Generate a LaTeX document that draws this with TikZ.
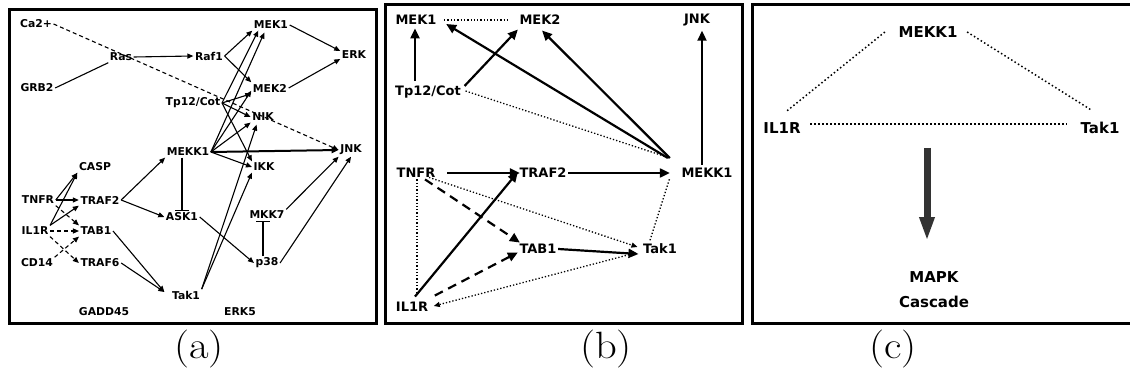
\documentclass[tikz,border=0pt]{standalone}
\usepackage{fontspec}
\newfontfamily\nf{DejaVu Sans}
\usetikzlibrary{arrows.meta,calc}
\begin{document}
\begin{tikzpicture}[x=1pt,y=-1pt,
 na/.style={font=\nf\bfseries\fontsize{10.8}{12}\selectfont, inner sep=1.5pt},
 nb/.style={font=\nf\bfseries\fontsize{13}{15}\selectfont, inner sep=1.5pt},
 nc/.style={font=\nf\bfseries\fontsize{15}{25}\selectfont, inner sep=1.5pt, align=center},
 lab/.style={font=\fontsize{38}{44}\selectfont, inner sep=0pt, xscale=1.12, transform shape},
 frame/.style={line width=3pt},
 ea/.style={line width=1.1pt, -{Triangle[length=6pt,width=5pt]}},
 eah/.style={line width=2pt, -{Triangle[length=7pt,width=6pt]}},
 eda/.style={ea, dash pattern=on 4pt off 3pt},
 pl/.style={line width=1.1pt},
 inh/.style={line width=1.1pt, -{Bar[width=14pt,line width=1.1pt]}},
 eb/.style={line width=2.2pt, -{Triangle[length=10pt,width=9pt]}},
 edb/.style={eb, dash pattern=on 9pt off 6pt},
 dotb/.style={line width=1.3pt, dash pattern=on 1.3pt off 2pt},
 dotba/.style={dotb, -{Triangle[length=6pt,width=5pt]}},
 dotc/.style={line width=1.5pt, dash pattern=on 1.5pt off 2.5pt},
 big/.style={line width=7pt, draw=black!80, -{Triangle[length=24pt,width=14pt,fill=black!80]}},
]
\useasboundingbox (0,0) rectangle (1130,377);
\fill[white] (0,0) rectangle (1130,377);

% frames
\draw[frame] (9,10) rectangle (376,323);
\draw[frame] (385,5) rectangle (742,323);
\draw[frame] (752,5) rectangle (1136,323);

% labels
\node[lab] (la) at (199,349) {(a)};
\node[lab] (lb) at (606,349) {(b)};
\node[lab] (lc) at (893,349) {(c)};

% ---------------- panel (a) ----------------
\node[na] (aCa) at (36,24) {Ca2+};
\node[na] (aGRB2) at (37,88) {GRB2};
\node[na] (aRas) at (121,57) {Ras};
\node[na] (aRaf1) at (209,56) {Raf1};
\node[na] (aMEK1) at (271,25) {MEK1};
\node[na] (aERK) at (354,55) {ERK};
\node[na] (aMEK2) at (270,88) {MEK2};
\node[na] (aTp) at (193,103) {Tp12/Cot};
\node[na] (aNIK) at (263,117) {NIK};
\node[na] (aMEKK1) at (188,152) {MEKK1};
\node[na] (aJNK) at (351,150) {JNK};
\node[na] (aIKK) at (264,167) {IKK};
\node[na] (aMKK7) at (267,215) {MKK7};
\node[na] (aASK1) at (182,217) {ASK1};
\node[na] (ap38) at (267,263) {p38};
\node[na] (aTak1) at (186,295) {Tak1};
\node[na] (aERK5) at (240,312) {ERK5};
\node[na] (aGADD) at (104,312) {GADD45};
\node[na] (aCASP) at (95,167) {CASP};
\node[na] (aTNFR) at (38,200) {TNFR};
\node[na] (aTRAF2) at (100,200) {TRAF2};
\node[na] (aIL1R) at (35,231) {IL1R};
\node[na] (aTAB1) at (96,231) {TAB1};
\node[na] (aCD14) at (37,263) {CD14};
\node[na] (aTRAF6) at (100,263) {TRAF6};

\draw[pl] (aGRB2.east) -- (aRas.south west);
\draw[eda] (aCa.east) -- (aJNK.west);
\draw[ea] (aRas.east) -- (aRaf1.west);
\draw[ea] (aRaf1.east) -- (aMEK1.south west);
\draw[ea] (aRaf1.east) -- (aMEK2.north west);
\draw[ea] (aMEK1.east) -- ($(aERK.west)+(0,-4)$);
\draw[ea] (aMEK2.east) -- ($(aERK.west)+(0,4)$);
% Tp12/Cot fan
\draw[ea] (aTp.east) -- ($(aMEK1.south west)+(6,0)$);
\draw[ea] (aTp.east) -- (aMEK2.south west);
\draw[ea] (aTp.east) -- (aNIK.west);
\draw[ea] (aTp.east) -- (aIKK.north west);
% MEKK1 fan
\draw[ea] (aMEKK1.east) -- ($(aMEK1.south west)+(12,2)$);
\draw[ea] (aMEKK1.east) -- ($(aMEK2.south west)+(0,-3)$);
\draw[ea] (aMEKK1.east) -- (aNIK.south west);
\draw[eah] (aMEKK1.east) -- (aJNK.west);
\draw[ea] (aMEKK1.east) -- (aIKK.west);
% Tak1
\draw[ea] (aTak1.north east) -- ($(aNIK.south west)+(6,2)$);
\draw[ea] (aTak1.north east) -- (aIKK.south west);
% receptors
\draw[ea] (aTNFR.east) -- (aCASP.south west);
\draw[ea] (aTNFR.east) -- (aTRAF2.west);
\draw[ea] (aIL1R.north east) -- (aCASP.south west);
\draw[ea] (aIL1R.north east) -- (aTRAF2.south west);
\draw[eda] (aTNFR.south east) -- (aTAB1.north west);
\draw[eda] (aIL1R.east) -- (aTAB1.west);
\draw[eda] (aIL1R.south east) -- (aTRAF6.west);
\draw[eda] (aCD14.north east) -- (aTAB1.south west);
\draw[ea] (aTRAF2.east) -- (aMEKK1.south west);
\draw[ea] (aTRAF2.east) -- (aASK1.west);
\draw[inh] (aMEKK1.south -| aASK1) -- (aASK1.north);
\draw[ea] (aTAB1.east) -- ($(aTak1.west)+(-6,-3)$);
\draw[ea] (aTRAF6.east) -- ($(aTak1.west)+(-6,-3)$);
\draw[ea] (aASK1.east) -- (ap38.west);
\draw[inh] ($(ap38.north)+(-4,0)$) -- ($(aMKK7.south)+(-4,0)$);
\draw[ea] (aMKK7.north east) -- (aJNK.south west);
\draw[ea] (ap38.east) -- (aJNK.south);

% ---------------- panel (b) ----------------
\node[nb] (bMEK1) at (416,20) {MEK1};
\node[nb] (bMEK2) at (540,20) {MEK2};
\node[nb] (bJNK) at (697,20) {JNK};
\node[nb] (bTp) at (428,92) {Tp12/Cot};
\node[nb] (bTNFR) at (416,173) {TNFR};
\node[nb] (bTRAF2) at (543,173) {TRAF2};
\node[nb] (bMEKK1) at (707,173) {MEKK1};
\node[nb] (bTAB1) at (538,249) {TAB1};
\node[nb] (bTak1) at (660,249) {Tak1};
\node[nb] (bIL1R) at (412,307) {IL1R};

\draw[dotb] ($(bMEK1.east)+(6,0)$) -- ($(bMEK2.west)+(-8,0)$);
\draw[eb] ($(bTp.north -| bMEK1)+(-1,-3)$) -- ($(bMEK1.south)+(-1,2)$);
\draw[eb] ($(bTp.east)+(2,-6)$) -- ($(bMEK2.south west)+(0,3)$);
\draw[dotb] ($(bTp.east)+(3,-1)$) -- ($(bMEKK1.west)+(-13,-16)$);
\draw[eb] ($(bMEKK1.west)+(-12,-15)$) -- ($(bMEK1.east)+(8,4)$);
\draw[eb] ($(bMEKK1.west)+(-10,-15)$) -- ($(bMEK2.south)+(2,4)$);
\draw[eb] ($(bMEKK1.north)+(-5,-2)$) -- ($(bJNK.south)+(5,3)$);
\draw[eb] ($(bTNFR.east)+(10,0)$) -- ($(bTRAF2.west)+(2,0)$);
\draw[eb] (bTRAF2.east) -- ($(bMEKK1.west)+(-10,0)$);
\draw[dotb] ($(bTNFR.south)+(1,0)$) -- ($(bTNFR.south |- bIL1R.north)+(1,-6)$);
\draw[edb] ($(bTNFR.south east)+(-12,0)$) -- ($(bTAB1.north west)+(2,0)$);
\draw[dotba] ($(bTNFR.south east)+(-8,-2)$) -- ($(bTak1.west)+(-4,-2)$);
\draw[eb] ($(bIL1R.north)+(3,-4)$) -- ($(bTRAF2.west)+(0,-1)$);
\draw[edb] ($(bIL1R.north east)+(5,-5)$) -- ($(bTAB1.south west)+(0,-3)$);
\draw[dotba] ($(bTak1.west)+(-6,4)$) -- ($(bIL1R.east)+(4,-1)$);
\draw[eb] (bTAB1.east) -- ($(bTak1.west)+(-3,5)$);
\draw[dotb] ($(bTak1.north)+(-10,-2)$) -- ($(bMEKK1.west)+(-10,5)$);

% ---------------- panel (c) ----------------
\node[nc] (cMEKK1) at (928,32) {MEKK1};
\node[nc] (cIL1R) at (782,128) {IL1R};
\node[nc] (cTak1) at (1100,128) {Tak1};
\node[nc] (cMAPK) at (934,290) {MAPK\\Cascade};
\coordinate (cTop) at (927,148);
\coordinate (cBot) at (927,241);

\draw[dotc] ($(cMEKK1.west)+(-12,0)$) -- ($(cIL1R.north)+(5,-10)$);
\draw[dotc] ($(cMEKK1.east)+(8,0)$) -- ($(cTak1.north)+(-8,-10)$);
\draw[dotc] ($(cIL1R.east)+(8,-4)$) -- ($(cTak1.west)+(-12,-4)$);
\draw[big] (cTop) -- (cBot);
\end{tikzpicture}
\end{document}
